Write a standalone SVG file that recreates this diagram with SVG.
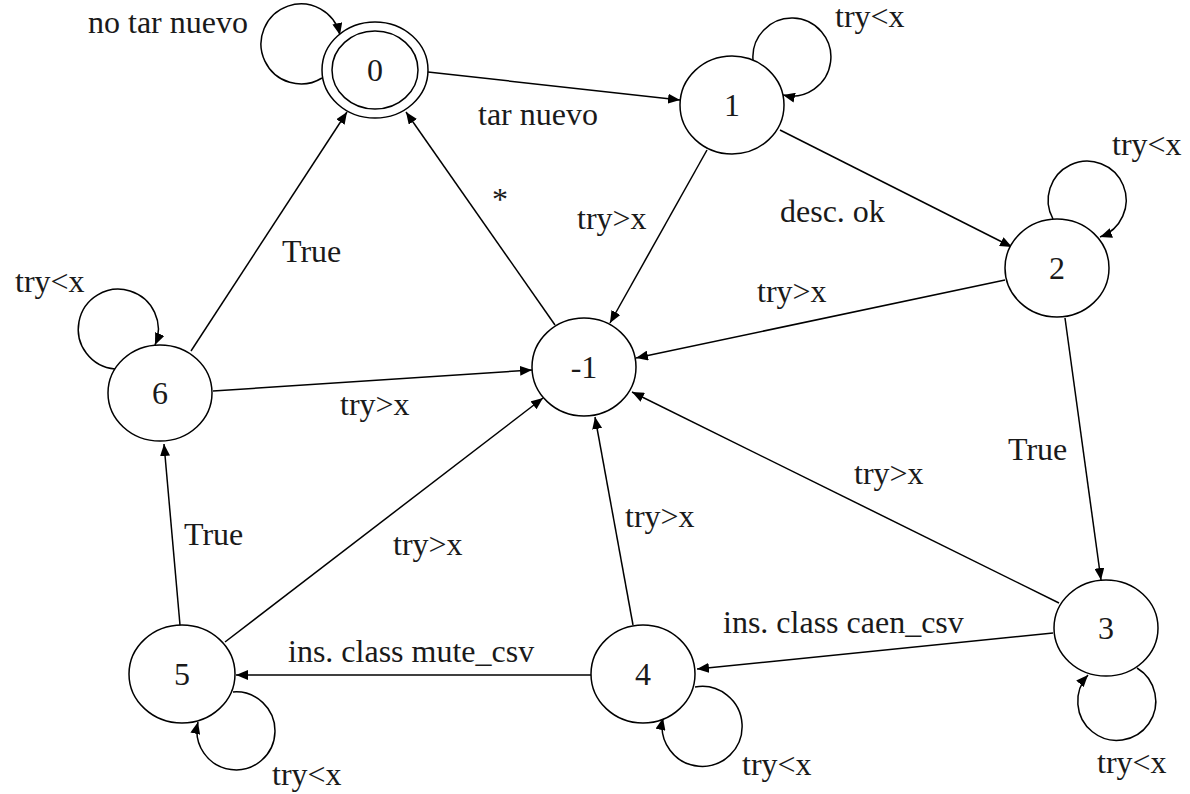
<svg xmlns="http://www.w3.org/2000/svg" width="1190" height="794" viewBox="0 0 1190 794">
<defs>
<marker id="arr" viewBox="0 0 12 10" refX="12" refY="5" markerWidth="12" markerHeight="10" markerUnits="userSpaceOnUse" orient="auto">
<path d="M0,0 L12,5 L0,10 z" fill="#000"/>
</marker>
<style>
.n{fill:#fff;stroke:#000;stroke-width:1.5}
.e{fill:none;stroke:#000;stroke-width:1.5;marker-end:url(#arr)}
text{font-family:"Liberation Serif","Times New Roman",serif;font-size:32px;fill:#1a1a1a}
.c{text-anchor:middle}
</style>
</defs>
<rect width="1190" height="794" fill="#fff"/>
<g id="edges">
<path class="e" d="M322,78 A40 40 0 1 1 340,35"/>
<line class="e" x1="428" y1="72" x2="680" y2="100"/>
<path class="e" d="M753,60 A39 39 0 1 1 783,95"/>
<line class="e" x1="780" y1="130" x2="1012" y2="247"/>
<line class="e" x1="707" y1="150" x2="610" y2="323"/>
<path class="e" d="M1053,219 A39 39 0 1 1 1100,237"/>
<line class="e" x1="1005" y1="280" x2="636" y2="358"/>
<line class="e" x1="1065" y1="318" x2="1101" y2="580"/>
<path class="e" d="M1137,668 A39 39 0 1 1 1088,675"/>
<line class="e" x1="1059" y1="603" x2="632" y2="392"/>
<line class="e" x1="1053" y1="633" x2="697" y2="669"/>
<path class="e" d="M695,687 A40 40 0 1 1 663,718"/>
<line class="e" x1="633" y1="625" x2="595" y2="417"/>
<line class="e" x1="591" y1="675" x2="236" y2="675"/>
<path class="e" d="M233,692 A39 39 0 1 1 198,722"/>
<line class="e" x1="180" y1="625" x2="164" y2="444"/>
<line class="e" x1="225" y1="642" x2="543" y2="398"/>
<path class="e" d="M115,369 A40 40 0 1 1 155,345"/>
<line class="e" x1="213" y1="391" x2="532" y2="370"/>
<line class="e" x1="191" y1="351" x2="347" y2="112"/>
<line class="e" x1="555" y1="325" x2="406" y2="112"/>
</g>
<g id="edge-labels">
<text x="88" y="33">no tar nuevo</text>
<text x="478" y="125">tar nuevo</text>
<text x="835" y="27">try&lt;x</text>
<text x="780" y="222">desc. ok</text>
<text x="577" y="229">try&gt;x</text>
<text x="1112" y="155">try&lt;x</text>
<text x="757" y="302">try&gt;x</text>
<text x="1008" y="460">True</text>
<text x="1097" y="773">try&lt;x</text>
<text x="854" y="484">try&gt;x</text>
<text x="723" y="633">ins. class caen_csv</text>
<text x="742" y="775">try&lt;x</text>
<text x="625" y="527">try&gt;x</text>
<text x="288" y="662">ins. class mute_csv</text>
<text x="272" y="785">try&lt;x</text>
<text x="184" y="545">True</text>
<text x="393" y="555">try&gt;x</text>
<text x="15" y="292">try&lt;x</text>
<text x="340" y="415">try&gt;x</text>
<text x="282" y="262">True</text>
<text x="492" y="210">*</text>
</g>
<g id="node-0"><ellipse class="n" cx="375" cy="70" rx="53" ry="48"/><ellipse class="n" cx="375" cy="70" rx="43" ry="39"/><text class="c" x="375" y="81">0</text></g>
<g id="node-1"><ellipse class="n" cx="732" cy="105" rx="52" ry="49"/><text class="c" x="732" y="116">1</text></g>
<g id="node-2"><ellipse class="n" cx="1057" cy="268" rx="52" ry="49"/><text class="c" x="1057" y="279">2</text></g>
<g id="node-3"><ellipse class="n" cx="1106" cy="628" rx="52" ry="48"/><text class="c" x="1106" y="639">3</text></g>
<g id="node-m1"><ellipse class="n" cx="584" cy="367" rx="52" ry="49"/><text class="c" x="584" y="378">-1</text></g>
<g id="node-4"><ellipse class="n" cx="643" cy="674" rx="52" ry="49"/><text class="c" x="643" y="685">4</text></g>
<g id="node-5"><ellipse class="n" cx="182" cy="674" rx="53" ry="49"/><text class="c" x="182" y="685">5</text></g>
<g id="node-6"><ellipse class="n" cx="160" cy="393" rx="52" ry="48"/><text class="c" x="160" y="404">6</text></g>
</svg>
